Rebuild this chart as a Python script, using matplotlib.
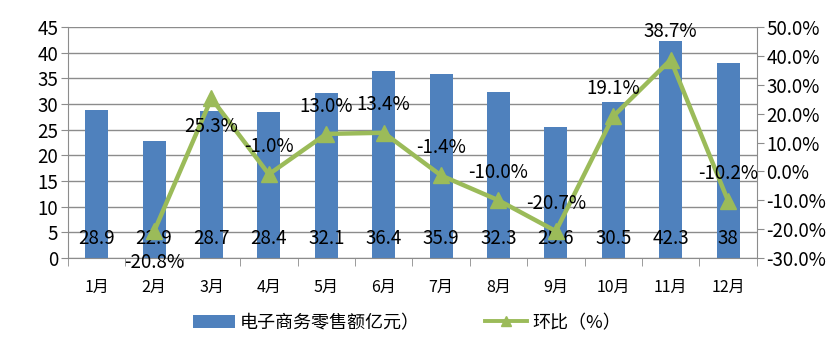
import matplotlib.pyplot as plt
import numpy as np

plt.rcParams['font.family'] = ['Noto Sans CJK SC', 'DejaVu Sans']

months = ['1月', '2月', '3月', '4月', '5月', '6月', '7月', '8月', '9月', '10月', '11月', '12月']
sales = [28.9, 22.9, 28.7, 28.4, 32.1, 36.4, 35.9, 32.3, 25.6, 30.5, 42.3, 38]
mom = [np.nan, -20.8, 25.3, -1.0, 13.0, 13.4, -1.4, -10.0, -20.7, 19.1, 38.7, -10.2]
sales_labels = ['28.9', '22.9', '28.7', '28.4', '32.1', '36.4', '35.9', '32.3', '25.6', '30.5', '42.3', '38']

bar_color = '#4F81BD'
line_color = '#9BBB59'
grid_color = '#8C8C8C'

fig = plt.figure(figsize=(8.39, 3.52), dpi=100)
ax = fig.add_axes([0.081, 0.267, 0.821, 0.656])
x = np.arange(len(months))

ax.bar(x, sales, width=0.4, color=bar_color, zorder=2, label='电子商务零售额亿元）')
ax.set_ylim(0, 45)
ax.set_yticks(range(0, 46, 5))
ax.set_xlim(-0.5, len(months) - 0.5)
ax.yaxis.grid(True, color=grid_color, linewidth=1)
ax.set_axisbelow(True)
ax.set_xticks(x)
ax.set_xticklabels(months, fontsize=11.5)
ax.set_xticks(np.arange(-0.5, len(months), 1), minor=True)
ax.tick_params(axis='x', which='major', length=0, pad=15)
ax.tick_params(axis='x', which='minor', length=6, color=grid_color)
ax.tick_params(axis='y', labelsize=13.5, length=5, color=grid_color, pad=2)
for s in ['top', 'right']:
    ax.spines[s].set_visible(False)
for s in ['left', 'bottom']:
    ax.spines[s].set_color(grid_color)

for xi, lab in zip(x, sales_labels):
    ax.text(xi, 3.9, lab, ha='center', va='center', fontsize=13.5, zorder=5)

ax2 = ax.twinx()
ax2.plot(x, mom, color=line_color, linewidth=3.2, marker='^', markersize=11,
         zorder=4, label='环比（%）')
ax2.set_ylim(-30, 50)
ax2.set_yticks(range(-30, 51, 10))
ax2.set_yticklabels([f'{v:.1f}%' for v in range(-30, 51, 10)])
ax2.tick_params(axis='y', labelsize=13.5, length=5, color=grid_color, pad=2)
for s in ['top', 'left', 'bottom']:
    ax2.spines[s].set_visible(False)
ax2.spines['right'].set_color(grid_color)

for xi, v in zip(x, mom):
    if np.isnan(v):
        continue
    dy = 20
    if months[xi] in ('2月', '3月'):
        dy = -20 if months[xi] == '3月' else -22
    ax2.annotate(f'{v:.1f}%', (xi, v), xytext=(0, dy), textcoords='offset points',
                 ha='center', va='center', fontsize=13.5, zorder=6)

h1, l1 = ax.get_legend_handles_labels()
h2, l2 = ax2.get_legend_handles_labels()
leg = fig.legend(h1 + h2, l1 + l2, loc='center', bbox_to_anchor=(0.485, 0.083), ncol=2,
                 frameon=False, fontsize=13, columnspacing=3.6, handlelength=2.3,
                 handletextpad=0.3)
for ln in leg.get_lines():
    ln.set_markersize(7)
    ln.set_linewidth(2.8)

fig.savefig('out.png', dpi=100)
